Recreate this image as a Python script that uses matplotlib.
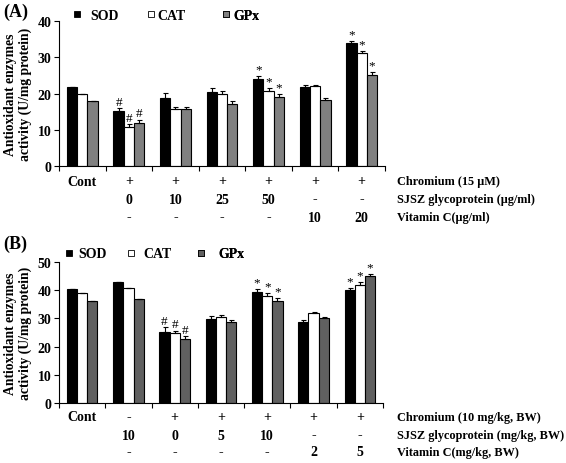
import matplotlib
matplotlib.use("Agg")
import matplotlib.pyplot as plt
from matplotlib.lines import Line2D
import numpy as np

plt.rcParams['font.family'] = ['Liberation Serif', 'DejaVu Serif']
plt.rcParams['font.weight'] = 'bold'

# ---------------- Data ----------------
series = ["SOD", "CAT", "GPx"]

a_sod = [21.8, 15.2, 18.7, 20.4, 23.9, 21.8, 34.0]
a_cat = [19.9, 10.8, 15.6, 19.9, 20.6, 22.0, 31.1]
a_gpx = [18.0, 12.0, 15.6, 17.1, 19.1, 18.1, 25.0]
a_sod_err = [0.0, 0.7, 1.5, 1.0, 0.9, 0.6, 0.6]
a_cat_err = [0.0, 0.7, 0.8, 0.7, 0.9, 0.3, 0.5]
a_gpx_err = [0.0, 0.7, 0.8, 0.7, 0.8, 0.7, 0.8]
a_sod_mark = ["", "#", "", "", "*", "", "*"]
a_cat_mark = ["", "#", "", "", "*", "", "*"]
a_gpx_mark = ["", "#", "", "", "*", "", "*"]
a_row1 = ["Cont", "+", "+", "+", "+", "+", "+"]
a_row2 = ["", "0", "10", "25", "50", "-", "-"]
a_row3 = ["", "-", "-", "-", "-", "10", "20"]
a_rowlabels = ["Chromium (15 \u03bcM)", "SJSZ glycoprotein (\u03bcg/ml)", "Vitamin C(\u03bcg/ml)"]
a_yticks = [0, 10, 20, 30, 40]

b_sod = [40.4, 42.9, 25.2, 29.8, 39.3, 28.8, 39.9]
b_cat = [38.8, 40.6, 24.8, 30.6, 37.8, 31.9, 41.9]
b_gpx = [36.0, 36.8, 22.8, 28.8, 36.1, 30.1, 44.8]
b_sod_err = [0.0, 0.0, 1.6, 1.0, 1.0, 0.5, 0.8]
b_cat_err = [0.0, 0.0, 0.9, 0.6, 1.0, 0.4, 0.8]
b_gpx_err = [0.0, 0.0, 0.8, 0.6, 1.0, 0.5, 0.9]
b_sod_mark = ["", "", "#", "", "*", "", "*"]
b_cat_mark = ["", "", "#", "", "*", "", "*"]
b_gpx_mark = ["", "", "#", "", "*", "", "*"]
b_row1 = ["Cont", "-", "+", "+", "+", "+", "+"]
b_row2 = ["", "10", "0", "5", "10", "-", "-"]
b_row3 = ["", "-", "-", "-", "-", "2", "5"]
b_rowlabels = ["Chromium (10 mg/kg, BW)", "SJSZ glycoprotein (mg/kg, BW)", "Vitamin C(mg/kg, BW)"]
b_yticks = [0, 10, 20, 30, 40, 50]

W, H = 566, 464
fig = plt.figure(figsize=(W / 100, H / 100), dpi=100)

PX = 0.72  # points per pixel


def panel(rect_px, vals, errs, marks, colors, rows, rowlabels, yticks,
          ylim, title, title_xy, legend_spec, row_offsets):
    l, t, r, b = rect_px
    ax = fig.add_axes([l / W, 1 - b / H, (r - l) / W, (b - t) / H])
    n = len(vals[0])
    x = np.arange(n)
    bw = 0.22
    offs = [-bw, 0, bw]
    for k in range(3):
        ax.bar(x + offs[k], vals[k], width=bw, color=colors[k],
               edgecolor='black', linewidth=0.8, zorder=2)
        e = np.array(errs[k])
        ax.errorbar(x + offs[k], vals[k], yerr=[np.zeros(n), e], fmt='none',
                    ecolor='black', elinewidth=0.8, capsize=1.8, capthick=0.8,
                    zorder=3)
        for i in range(n):
            if marks[k][i]:
                ax.annotate(marks[k][i], xy=(x[i] + offs[k], vals[k][i] + e[i]),
                            xytext=(0, 0.5), textcoords='offset points',
                            ha='center', va='bottom', fontsize=9.5,
                            fontweight='normal')
    ax.set_xlim(-0.5, n - 0.5)
    ax.set_ylim(*ylim)
    ax.set_yticks(yticks)
    ax.set_yticklabels([str(v) for v in yticks], fontsize=10, fontweight='bold')
    ax.set_xticks(np.arange(n + 1) - 0.5)
    ax.set_xticklabels([])
    ax.tick_params(axis='both', direction='out', length=3.5, width=0.8)
    ax.tick_params(axis='y', pad=2)
    for s in ['top', 'right']:
        ax.spines[s].set_visible(False)
    for s in ['left', 'bottom']:
        ax.spines[s].set_linewidth(0.8)
    ax.set_ylabel("Antioxidant enzymes\nactivity (U/mg protein)", fontsize=9.8,
                  fontweight='bold', labelpad=4, linespacing=1.1)
    # row labels
    for row, off in zip(rows, row_offsets):
        for i, txt in enumerate(row):
            if txt:
                ax.annotate(txt, xy=(x[i], 0), xycoords=('data', 'axes fraction'),
                            xytext=(0, -off * PX), textcoords='offset points',
                            ha='center', va='center', fontsize=10,
                            fontweight='bold')
    for lab, off in zip(rowlabels, row_offsets):
        ax.annotate(lab, xy=(1, 0), xycoords='axes fraction',
                    xytext=((397 - r) * PX, -off * PX), textcoords='offset points',
                    ha='left', va='center', fontsize=8.8, fontweight='bold',
                    annotation_clip=False)
    fig.text(title_xy[0] / W, 1 - title_xy[1] / H, title, fontsize=13,
             fontweight='bold', ha='left', va='center')
    # legends
    ly, items = legend_spec
    for (name, col, bx, tx) in items:
        h = Line2D([], [], marker='s', linestyle='none', markersize=5,
                   markerfacecolor=col, markeredgecolor='black',
                   markeredgewidth=0.6)
        hl = 0.6
        fs_px = 10 / 0.72
        pad = (tx - (bx - (hl * fs_px - 7) / 2 + hl * fs_px)) / fs_px
        leg = ax.legend(handles=[h], labels=[name], loc='center left',
                        bbox_to_anchor=((bx - (hl * fs_px - 7) / 2) / W, 1 - ly / H),
                        bbox_transform=fig.transFigure, frameon=False,
                        borderpad=0, borderaxespad=0, handlelength=hl,
                        handletextpad=max(pad, 0.05),
                        prop={'size': 10, 'weight': 'bold'})
        ax.add_artist(leg)
    return ax


panel((59, 22, 385, 167), [a_sod, a_cat, a_gpx],
      [a_sod_err, a_cat_err, a_gpx_err], [a_sod_mark, a_cat_mark, a_gpx_mark],
      ['black', 'white', '#808080'], [a_row1, a_row2, a_row3], a_rowlabels,
      a_yticks, (0, 40), "(A)", (3, 12),
      (16, [("SOD", 'black', 73, 90), ("CAT", 'white', 147, 157),
            ("GPx", '#808080', 222, 233)]),
      [15, 33, 51])

panel((59, 262.7, 383, 404.3), [b_sod, b_cat, b_gpx],
      [b_sod_err, b_cat_err, b_gpx_err], [b_sod_mark, b_cat_mark, b_gpx_mark],
      ['black', 'white', '#606060'], [b_row1, b_row2, b_row3], b_rowlabels,
      b_yticks, (0, 50), "(B)", (3, 244),
      (255, [("SOD", 'black', 65, 78), ("CAT", 'white', 127, 143),
             ("GPx", '#606060', 197, 218)]),
      [13.4, 31.7, 48.7])

fig.savefig("out.png", dpi=100)
